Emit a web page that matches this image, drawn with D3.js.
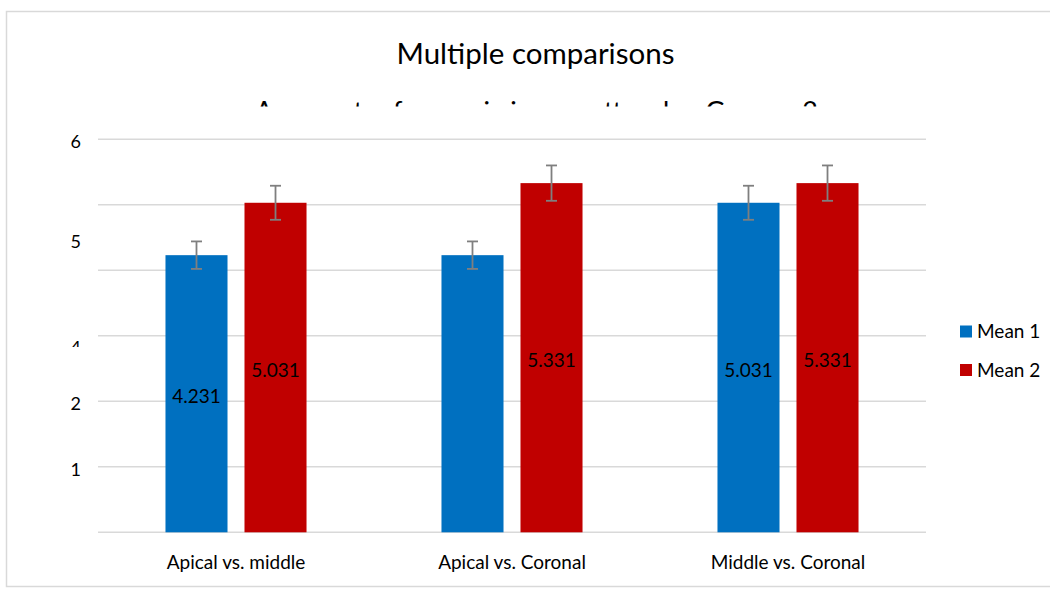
<!DOCTYPE html>
<html><head><meta charset="utf-8">
<script src="https://cdn.jsdelivr.net/npm/d3@7"></script>
<style>
body{margin:0;background:#fff}
svg{display:block}
text{font-family:Lato,"Liberation Sans",sans-serif;fill:#000}
</style>
</head><body><svg id="c" width="1050" height="589"></svg>
<script>
// ---- data ----
const categories = ["Apical vs. middle", "Apical vs. Coronal", "Middle vs. Coronal"];
const seriesNames = ["Mean 1", "Mean 2"];
const mean1 = [4.231, 4.231, 5.031];
const mean2 = [5.031, 5.331, 5.331];
const err1 = [0.21, 0.21, 0.26];
const err2 = [0.26, 0.27, 0.27];
const mean1LabelAt = [null, -0.1, null];   // value where the label sits (null = bar middle)
const mean2LabelAt = [null, null, null];
const tickLabels = ["6", "5", "4", "2", "1"];
const tickAt = [6, 4.47, 2.85, 2, 1];
const gridValues = [0, 1, 2, 3, 4, 5, 6];
const titleText = "Multiple comparisons";
const subtitleText = "Amount of remaining matter by Group 2";

// ---- layout ----
const W = 1050, H = 589;
const m = {left: 98, right: 124, top: 139.3, bottom: 56.7};
const colors = {"Mean 1": "#0070C0", "Mean 2": "#C00000"};
const svg = d3.select("#c");

const x0 = d3.scaleBand().domain(categories).range([m.left, W - m.right])
  .paddingInner(0.489).paddingOuter(0.2445);
const x1 = d3.scaleBand().domain(seriesNames).range([0, x0.bandwidth()])
  .paddingInner(0.215).paddingOuter(0);
const y = d3.scaleLinear().domain([0, 6]).range([H - m.bottom, m.top]);

const data = [];
categories.forEach((c, i) => {
  data.push({cat: c, s: "Mean 1", v: mean1[i], e: err1[i], la: mean1LabelAt[i]});
  data.push({cat: c, s: "Mean 2", v: mean2[i], e: err2[i], la: mean2LabelAt[i]});
});
const bx = d => x0(d.cat) + x1(d.s);
const bw = x1.bandwidth();

const defs = svg.append("defs");
defs.append("clipPath").attr("id", "subClip").append("rect")
  .attr("x", 0).attr("y", 0).attr("width", W).attr("height", 106.5);
defs.append("clipPath").attr("id", "plotClip").append("rect")
  .attr("x", 0).attr("y", 0).attr("width", W).attr("height", y(0));
defs.append("clipPath").attr("id", "tickClip").append("rect")
  .attr("x", 0).attr("y", 0).attr("width", W).attr("height", 347);

// chart border
svg.append("rect").attr("x", 6.5).attr("y", 11.5).attr("width", W + 10).attr("height", 575)
  .attr("fill", "#fff").attr("stroke", "#d9d9d9").attr("stroke-width", 1.5);

// title + clipped subtitle
svg.append("text").attr("x", 535.5).attr("y", 64).attr("text-anchor", "middle")
  .style("font-size", "29.5px").text(titleText);
svg.append("text").attr("clip-path", "url(#subClip)")
  .attr("x", 255).attr("y", 121).attr("textLength", 563).attr("lengthAdjust", "spacing")
  .style("font-size", "27px").text(subtitleText);

// gridlines
svg.append("g").selectAll("line").data(gridValues).join("line")
  .attr("x1", m.left).attr("x2", W - m.right)
  .attr("y1", d => y(d)).attr("y2", d => y(d))
  .attr("stroke", "#d9d9d9").attr("stroke-width", 1.5);

// y tick labels (the "4" is partly hidden in the reference)
const ticks = tickLabels.map((t, i) => ({t, v: tickAt[i]}));
svg.append("g").selectAll("text").data(ticks).join("text")
  .attr("clip-path", d => d.t === "4" ? "url(#tickClip)" : null)
  .attr("x", 81).attr("y", d => y(d.v) + 2.4).attr("dy", "0.35em")
  .attr("text-anchor", "end").style("font-size", "18px").text(d => d.t);

// bars
svg.append("g").selectAll("rect").data(data).join("rect")
  .attr("x", bx).attr("width", bw)
  .attr("y", d => y(d.v)).attr("height", d => y(0) - y(d.v))
  .attr("fill", d => colors[d.s]);

// error bars
const eg = svg.append("g").attr("stroke", "#7f7f7f").attr("stroke-width", 1.8);
eg.selectAll("line.v").data(data).join("line").attr("class", "v")
  .attr("x1", d => bx(d) + bw / 2).attr("x2", d => bx(d) + bw / 2)
  .attr("y1", d => y(d.v + d.e)).attr("y2", d => y(d.v - d.e));
eg.selectAll("line.t").data(data).join("line").attr("class", "t")
  .attr("x1", d => bx(d) + bw / 2 - 5.5).attr("x2", d => bx(d) + bw / 2 + 5.5)
  .attr("y1", d => y(d.v + d.e)).attr("y2", d => y(d.v + d.e));
eg.selectAll("line.b").data(data).join("line").attr("class", "b")
  .attr("x1", d => bx(d) + bw / 2 - 5.5).attr("x2", d => bx(d) + bw / 2 + 5.5)
  .attr("y1", d => y(d.v - d.e)).attr("y2", d => y(d.v - d.e));

// value labels
svg.append("g").attr("clip-path", "url(#plotClip)").selectAll("text").data(data).join("text")
  .attr("x", d => bx(d) + bw / 2)
  .attr("y", d => y(d.la == null ? d.v / 2 : d.la) + 2.5).attr("dy", "0.35em")
  .attr("text-anchor", "middle").style("font-size", "19px")
  .text(d => d3.format(".3f")(d.v));

// category axis labels
svg.append("g").selectAll("text").data(categories).join("text")
  .attr("x", d => x0(d) + x0.bandwidth() / 2).attr("y", 562).attr("dy", "0.35em")
  .attr("text-anchor", "middle").style("font-size", "19px").text(d => d);

// legend
const lg = svg.append("g").selectAll("g").data(seriesNames).join("g")
  .attr("transform", (d, i) => `translate(960,${331.5 + i * 38.5})`);
lg.append("rect").attr("x", 0).attr("y", -6).attr("width", 12).attr("height", 12)
  .attr("fill", d => colors[d]);
lg.append("text").attr("x", 17).attr("y", 0).attr("dy", "0.35em")
  .style("font-size", "19px").text(d => d);
</script>
</body></html>
